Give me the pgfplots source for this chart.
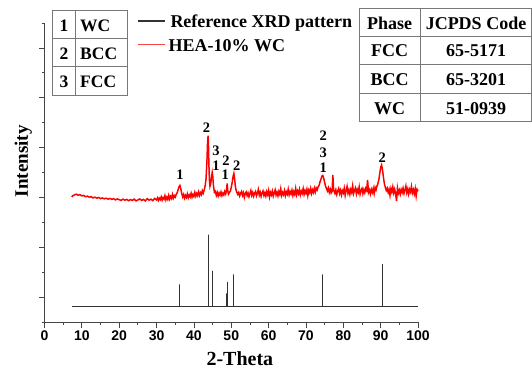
\documentclass[border=0pt]{standalone}
\usepackage{pgfplots}
\pgfplotsset{compat=1.18}
\usepackage{fontspec}
\setmainfont{Liberation Serif}
\newfontfamily\arialf{Liberation Sans}
\definecolor{axgray}{RGB}{70,70,70}
\definecolor{tabgray}{RGB}{120,120,120}
\definecolor{refgray}{RGB}{50,50,50}
\definecolor{xrdred}{RGB}{255,0,0}
\definecolor{legred}{RGB}{240,70,70}
\begin{document}
\begin{tikzpicture}[x=1bp,y=1bp]
\path[use as bounding box] (-44.5,-48) rectangle (487.5,322);
\begin{axis}[
  at={(0,0)}, anchor=south west,
  scale only axis, width=373.5bp, height=299bp,
  xmin=0, xmax=100, ymin=0, ymax=12,
  axis x line*=bottom, axis y line*=left,
  axis line style={-, axgray, line width=1bp},
  every tick/.style={axgray, line width=0.8bp},
  tick align=outside,
  major tick length=5.5bp, minor tick length=3bp,
  xtick={0,10,...,100}, minor xtick={5,15,...,95},
  ytick={1,3,5,7,9,11}, minor ytick={0,2,...,12},
  yticklabels={},
  /pgf/number format/assume math mode=true,
  xticklabel style={font=\arialf\bfseries\fontsize{14bp}{16bp}\selectfont, text=black},
  xlabel={2-Theta},
  xlabel style={font=\bfseries\fontsize{20bp}{22bp}\selectfont, at={(axis description cs:0.523,0)}, anchor=base, yshift=-43bp},
  ylabel={Intensity},
  ylabel style={font=\bfseries\fontsize{19bp}{21bp}\selectfont, at={(axis description cs:-0.0442,0.538)}, anchor=base},
  clip=false,
]
\addplot[refgray, line width=1bp] coordinates {
(7.3,0.64) (36.2,0.64) (36.2,1.51) (36.2,0.64)
(43.8,0.64) (43.8,3.51) (43.8,0.64)
(45.0,0.64) (45.0,2.05) (45.0,0.64)
(48.7,0.64) (48.7,1.15) (48.7,0.64)
(48.9,0.64) (48.9,1.61) (48.9,0.64)
(50.7,0.64) (50.7,1.91) (50.7,0.64)
(74.5,0.64) (74.5,1.91) (74.5,0.64)
(90.4,0.64) (90.4,2.32) (90.4,0.64)
(100,0.64)
};
\addplot[xrdred, line width=1.5bp] table {
7.3 5.02
7.5 5.06
8.0 5.10
8.5 5.13
9.0 5.09
9.5 5.11
10.0 5.06
10.5 5.08
11.0 5.03
11.5 5.05
12.0 5.01
12.5 5.03
13.0 4.98
13.5 5.01
14.0 4.97
14.5 5.00
15.0 4.95
15.5 4.98
16.0 4.94
16.5 4.97
17.0 4.93
17.5 4.96
18.0 4.92
18.5 4.95
19.0 4.90
19.5 4.94
20.0 4.91
20.5 4.88
21.0 4.93
21.5 4.89
22.0 4.92
22.5 4.87
23.0 4.91
23.5 4.88
24.0 4.93
24.5 4.86
25.0 4.90
25.5 4.94
26.0 4.88
26.5 4.92
27.0 4.86
27.5 4.95
28.0 4.89
28.5 4.93
29.0 4.87
29.5 4.96
30.0 4.90
30.25 4.98
30.5 4.88
30.75 4.97
31.0 4.91
31.25 5.02
31.5 4.89
31.75 4.99
32.0 4.93
32.25 5.07
32.5 4.90
32.75 5.01
33.0 4.92
33.25 5.08
33.5 4.93
33.75 5.04
34.0 4.96
34.25 5.12
34.5 4.97
34.75 5.07
35.0 5.01
35.25 5.12
35.5 5.18
35.75 5.30
36.0 5.42
36.25 5.48
36.5 5.34
36.75 5.15
37.0 5.02
37.25 5.12
37.5 4.97
37.75 5.08
38.0 5.00
38.25 5.14
38.5 4.99
38.75 5.10
39.0 5.02
39.25 5.17
39.5 5.01
39.75 5.12
40.0 5.04
40.25 5.20
40.5 5.05
40.75 5.16
41.0 5.07
41.25 5.22
41.5 5.08
41.75 5.19
42.0 5.11
42.25 5.27
42.5 5.17
42.75 5.30
43.0 5.45
43.25 5.75
43.5 6.50
43.65 7.20
43.8 7.48
43.9 7.10
44.0 6.40
44.15 5.70
44.3 5.45
44.5 5.55
44.7 5.80
44.9 6.00
45.05 5.85
45.25 5.45
45.5 5.20
45.75 5.24
46.0 5.08
46.25 5.20
46.5 5.06
46.75 5.18
47.0 5.09
47.25 5.22
47.5 5.07
47.75 5.17
48.0 5.10
48.25 5.24
48.5 5.14
48.75 5.30
48.9 5.56
49.05 5.30
49.25 5.13
49.5 5.20
49.75 5.25
50.0 5.40
50.25 5.60
50.5 5.85
50.7 5.96
50.9 5.75
51.1 5.45
51.3 5.28
51.5 5.20
51.75 5.12
52.0 5.20
52.25 5.06
52.5 5.17
52.75 5.24
53.0 5.08
53.25 5.19
53.5 5.00
53.75 5.16
54.0 5.22
54.25 5.07
54.5 5.18
54.75 5.03
55.0 5.15
55.25 5.28
55.5 5.08
55.75 5.20
56.0 5.05
56.25 5.17
56.5 5.24
56.75 5.06
57.0 5.16
57.25 5.32
57.5 5.09
57.75 5.21
58.0 5.04
58.25 5.18
58.5 5.26
58.75 5.08
59.0 5.19
59.25 5.05
59.5 5.23
59.75 5.11
60.0 5.28
60.25 5.02
60.5 5.20
60.75 5.10
61.0 5.25
61.25 5.05
61.5 5.18
61.75 5.30
62.0 5.09
62.25 5.21
62.5 5.06
62.75 5.24
63.0 5.12
63.25 5.34
63.5 5.08
63.75 5.20
64.0 5.11
64.25 5.27
64.5 5.07
64.75 5.22
65.0 5.13
65.25 5.33
65.5 5.10
65.75 5.23
66.0 5.14
66.25 5.29
66.5 5.08
66.75 5.24
67.0 5.12
67.25 5.36
67.5 5.11
67.75 5.26
68.0 5.15
68.25 5.32
68.5 5.10
68.75 5.25
69.0 5.16
69.25 5.35
69.5 5.12
69.75 5.27
70.0 5.17
70.25 5.33
70.5 5.08
70.75 5.29
71.0 5.19
71.25 5.36
71.5 5.16
71.75 5.30
72.0 5.20
72.25 5.37
72.5 5.22
72.75 5.38
73.0 5.30
73.25 5.42
73.5 5.48
73.75 5.62
74.0 5.72
74.25 5.85
74.5 5.88
74.75 5.78
75.0 5.60
75.25 5.45
75.5 5.35
75.75 5.26
76.0 5.38
76.25 5.20
76.5 5.33
76.75 5.18
77.0 5.25
77.2 5.90
77.4 5.30
77.75 5.16
78.0 5.30
78.25 5.12
78.5 5.26
78.75 5.36
79.0 5.16
79.25 5.29
79.5 5.10
79.75 5.27
80.0 5.18
80.25 5.37
80.5 5.08
80.75 5.28
81.0 5.44
81.25 5.17
81.5 5.30
81.75 5.12
82.0 5.32
82.25 5.20
82.5 5.46
82.75 5.16
83.0 5.29
83.25 5.38
83.5 5.14
83.75 5.31
84.0 5.20
84.25 5.42
84.5 5.13
84.75 5.28
85.0 5.36
85.25 5.15
85.5 5.31
85.75 5.19
86.0 5.36
86.25 5.28
86.5 5.70
86.75 5.20
87.0 5.30
87.25 5.14
87.5 5.32
87.75 5.20
88.0 5.36
88.25 5.15
88.5 5.40
88.75 5.30
89.0 5.45
89.25 5.55
89.5 5.70
89.75 5.95
90.0 6.20
90.25 6.30
90.5 6.10
90.75 5.80
91.0 5.55
91.25 5.40
91.5 5.28
91.75 5.37
92.0 5.20
92.25 5.32
92.5 5.08
92.75 5.35
93.0 5.22
93.25 5.42
93.5 5.18
93.75 5.33
94.0 5.15
94.25 4.85
94.5 5.38
94.75 5.17
95.0 5.29
95.25 5.13
95.5 5.32
95.75 5.20
96.0 5.37
96.25 5.16
96.5 5.30
96.75 5.46
97.0 5.19
97.25 5.34
97.5 5.13
97.75 5.32
98.0 5.22
98.25 5.44
98.5 5.18
98.75 5.31
99.0 5.14
99.25 5.35
99.5 5.05
99.75 5.32
100.0 5.25
};
\begin{scope}[font=\bfseries\fontsize{14.5bp}{15bp}\selectfont, every node/.style={inner sep=0pt}]
\node at (axis cs:36.3,5.91) {1};
\node at (axis cs:43.4,7.79) {2};
\node at (axis cs:45.9,6.87) {3};
\node at (axis cs:45.9,6.27) {1};
\node at (axis cs:48.6,6.48) {2};
\node at (axis cs:48.4,5.91) {1};
\node at (axis cs:51.5,6.28) {2};
\node at (axis cs:74.6,7.48) {2};
\node at (axis cs:74.6,6.81) {3};
\node at (axis cs:74.6,6.21) {1};
\node at (axis cs:90.4,6.61) {2};
\end{scope}
\end{axis}
\begin{scope}[shift={(-44.5,322)}, y=-1bp]
% legend
\draw[refgray, line width=1bp] (138,21) -- (165,21);
\draw[legred, line width=1bp] (138,44.3) -- (165,44.3);
\begin{scope}[every node/.style={inner sep=0pt, font=\bfseries\fontsize{18bp}{20bp}\selectfont}]
\node[anchor=base west] at (170.3,27.3) {Reference XRD pattern};
\node[anchor=base west] at (168.3,51.7) {HEA-10\% WC};
\end{scope}
% left table
\draw[tabgray, line width=1bp] (52.7,11) rectangle (127.7,95);
\draw[tabgray, line width=1bp] (52.7,38.3) -- (127.7,38.3) (52.7,66.7) -- (127.7,66.7) (75,11) -- (75,95);
\begin{scope}[every node/.style={inner sep=0pt, font=\bfseries\fontsize{17.5bp}{19bp}\selectfont}]
\node[anchor=base] at (64,31) {1};
\node[anchor=base] at (64,59) {2};
\node[anchor=base] at (64,87) {3};
\node[anchor=base west] at (80,31) {WC};
\node[anchor=base west] at (80,59) {BCC};
\node[anchor=base west] at (80,87) {FCC};
\end{scope}
% right table
\draw[tabgray, line width=1bp] (359.3,9) rectangle (531,121.7);
\draw[tabgray, line width=1bp] (359.3,36.7) -- (531,36.7) (359.3,64) -- (531,64) (359.3,93.3) -- (531,93.3) (420,9) -- (420,121.7);
\begin{scope}[every node/.style={inner sep=0pt, font=\bfseries\fontsize{18bp}{19bp}\selectfont}]
\node[anchor=base] at (389.6,29.3) {Phase};
\node[anchor=base] at (476,29.3) {JCPDS Code};
\node[anchor=base] at (389.6,56.8) {FCC};
\node[anchor=base] at (476,56.8) {65-5171};
\node[anchor=base] at (389.6,85.2) {BCC};
\node[anchor=base] at (476,85.2) {65-3201};
\node[anchor=base] at (389.6,114) {WC};
\node[anchor=base] at (476,114) {51-0939};
\end{scope}
\end{scope}
\end{tikzpicture}
\end{document}
